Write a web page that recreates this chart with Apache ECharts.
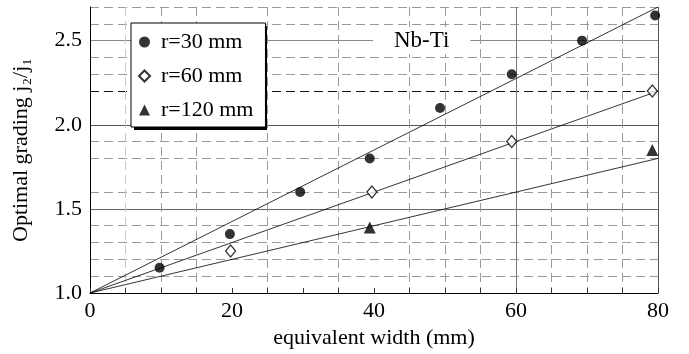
<!DOCTYPE html>
<html>
<head>
<meta charset="utf-8">
<script src="https://cdn.jsdelivr.net/npm/echarts@6/dist/echarts.min.js"></script>
<style>
  html, body { margin: 0; padding: 0; background: #fff; }
  #main { width: 689px; height: 354px; }
</style>
</head>
<body>
<div id="main"></div>
<script>
// measured points
const r30X = [9.8, 19.7, 29.6, 39.4, 49.3, 59.4, 69.3, 79.6];
const r30Y = [1.15, 1.35, 1.6, 1.8, 2.1, 2.3, 2.5, 2.65];
const r60X = [19.8, 39.7, 59.4, 79.2];
const r60Y = [1.25, 1.6, 1.9, 2.2];
const r120X = [39.4, 79.2];
const r120Y = [1.39, 1.85];

// straight lines from origin
const fitX = [0, 80];
const fit30 = [1.0, 2.7];
const fit60 = [1.0, 2.2];
const fit120 = [1.0, 1.8];

const FONT = "'Liberation Serif', 'Times New Roman', serif";
const GRAY = "#9a9a9a";
const NONE = "rgba(0,0,0,0)";

const pairs = (xs, ys) => xs.map((x, i) => [x, ys[i]]);

const myChart = echarts.init(document.getElementById("main"));

// dashed minor lines, one colour per line (0,5,...,80)
const xMinorColors = [NONE, "#c8c8c8", GRAY, GRAY, NONE, GRAY, NONE, GRAY, NONE,
  GRAY, GRAY, GRAY, NONE, GRAY, GRAY, GRAY, NONE];
// 1.0, 1.1, ... 2.7
const yMinorColors = [NONE, GRAY, GRAY, GRAY, GRAY, NONE, GRAY, NONE, GRAY, GRAY,
  NONE, NONE, "#111", GRAY, GRAY, NONE, GRAY, GRAY];

const option = {
  animation: false,
  backgroundColor: "#fff",
  textStyle: { fontFamily: FONT },
  title: {
    text: "Nb-Ti",
    left: 373,
    top: 27,
    padding: [2, 21, 2, 21],
    backgroundColor: "#fff",
    textStyle: { fontFamily: FONT, fontSize: 23, fontWeight: "normal", color: "#000" },
  },
  // hard drop shadow behind the legend box
  graphic: [
    {
      type: "rect",
      left: 134,
      top: 26,
      z: 3,
      shape: { width: 133, height: 104 },
      style: { fill: "#000" },
    },
  ],
  legend: {
    data: ["r=30 mm", "r=60 mm", "r=120 mm"],
    orient: "vertical",
    left: 131,
    top: 23,
    width: 133,
    padding: [8, 12, 6, 7],
    itemWidth: 11,
    itemHeight: 11,
    itemGap: 12,
    backgroundColor: "#fff",
    borderColor: "#000",
    borderWidth: 1,
    z: 5,
    textStyle: { fontFamily: FONT, fontSize: 22, color: "#000", padding: [0, 0, 0, 6] },
  },
  grid: { left: 90, right: 31, top: 7, bottom: 59 },
  xAxis: [
    {
      type: "value",
      min: 0,
      max: 80,
      interval: 20,
      name: "equivalent width (mm)",
      nameLocation: "middle",
      nameGap: 34,
      nameTextStyle: { fontFamily: FONT, fontSize: 22, color: "#000" },
      axisLine: { lineStyle: { color: "#000", width: 1 } },
      axisTick: { show: true, inside: true, length: 5, lineStyle: { color: "#333" } },
      minorTick: { show: true, splitNumber: 4, length: 5, lineStyle: { color: "#333" } },
      axisLabel: { fontFamily: FONT, fontSize: 22, color: "#000", margin: 7 },
      splitLine: {
        show: true,
        lineStyle: { color: [NONE, NONE, NONE, "#777", "#555"], width: 1 },
      },
    },
    {
      type: "value",
      min: 0,
      max: 80,
      interval: 5,
      position: "top",
      axisLine: { show: false },
      axisTick: { show: false },
      axisLabel: { show: false },
      splitLine: {
        show: true,
        lineStyle: { color: xMinorColors, type: [9, 5], width: 1 },
      },
    },
  ],
  yAxis: [
    {
      type: "value",
      min: 1.0,
      max: 2.7,
      interval: 0.5,
      name: "Optimal grading j\u2082/j\u2081",
      nameLocation: "middle",
      nameGap: 58,
      nameTextStyle: { fontFamily: FONT, fontSize: 22, color: "#000" },
      axisLine: { show: true, lineStyle: { color: "#000", width: 1 } },
      axisTick: { show: false },
      axisLabel: {
        fontFamily: FONT,
        fontSize: 22,
        color: "#000",
        margin: 8,
        formatter: (v) => (Math.abs(v * 2 - Math.round(v * 2)) < 1e-6 ? v.toFixed(1) : ""),
      },
      splitLine: {
        show: true,
        lineStyle: { color: [NONE, "#666", "#555", "#888", NONE], width: 1 },
      },
    },
    {
      type: "value",
      min: 1.0,
      max: 2.7,
      interval: 0.1,
      position: "right",
      axisLine: { show: false },
      axisTick: { show: false },
      axisLabel: { show: false },
      splitLine: {
        show: true,
        lineStyle: { color: yMinorColors, type: [9, 5], width: 1 },
      },
    },
  ],
  series: [
    {
      name: "fit30",
      type: "line",
      data: pairs(fitX, fit30),
      symbol: "none",
      lineStyle: { color: "#000", width: 0.8 },
      z: 3,
    },
    {
      name: "fit60",
      type: "line",
      data: pairs(fitX, fit60),
      symbol: "none",
      lineStyle: { color: "#000", width: 0.8 },
      z: 3,
    },
    {
      name: "fit120",
      type: "line",
      data: pairs(fitX, fit120),
      symbol: "none",
      lineStyle: { color: "#000", width: 0.8 },
      z: 3,
    },
    {
      name: "r=30 mm",
      type: "scatter",
      data: pairs(r30X, r30Y),
      symbol: "circle",
      symbolSize: 10,
      itemStyle: { color: "#000" },
      z: 4,
    },
    {
      name: "r=60 mm",
      type: "scatter",
      data: pairs(r60X, r60Y),
      symbol: "diamond",
      symbolSize: [10, 12],
      itemStyle: { color: "#fff", borderColor: "#000", borderWidth: 1.3 },
      z: 4,
    },
    {
      name: "r=120 mm",
      type: "scatter",
      data: pairs(r120X, r120Y),
      symbol: "triangle",
      symbolSize: 12,
      itemStyle: { color: "#000" },
      z: 4,
    },
  ],
};

myChart.setOption(option);
</script>
</body>
</html>
